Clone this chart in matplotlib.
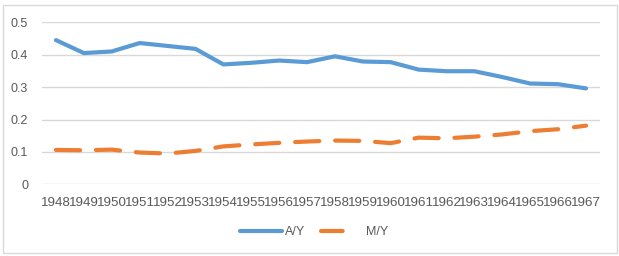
import matplotlib.pyplot as plt
from matplotlib.lines import Line2D
from matplotlib.patches import Rectangle

plt.rcParams['font.family'] = ['Liberation Sans', 'DejaVu Sans']

# data
years = [str(y) for y in range(1948, 1968)]
a_y = [0.445, 0.405, 0.410, 0.436, 0.427, 0.418, 0.370, 0.375, 0.382, 0.377,
       0.395, 0.379, 0.377, 0.354, 0.349, 0.349, 0.331, 0.311, 0.309, 0.296]
m_y = [0.106, 0.105, 0.107, 0.098, 0.095, 0.103, 0.117, 0.123, 0.128, 0.132,
       0.135, 0.134, 0.127, 0.144, 0.142, 0.147, 0.154, 0.164, 0.170, 0.181]
yticks = [0, 0.1, 0.2, 0.3, 0.4, 0.5]

blue = '#5B9BD5'
orange = '#ED7D31'
text_col = '#595959'
grid_col = '#D9D9D9'

fig = plt.figure(figsize=(6.19, 2.56), dpi=100)
fig.patches.append(Rectangle((2.5 / 619, 3.5 / 256), 614 / 619, 248 / 256,
                             transform=fig.transFigure, fill=False,
                             edgecolor=grid_col, linewidth=1))
ax = fig.add_axes([42 / 619, 1 - 184.3 / 256, 558 / 619, 162 / 256])

x = list(range(len(years)))
ax.plot(x, a_y, color=blue, linewidth=3, solid_capstyle='round')
ax.plot(x, m_y, color=orange, linewidth=3, dashes=(5.8, 3.8),
        dash_capstyle='round')

ax.set_xlim(-0.5, len(years) - 0.5)
ax.set_ylim(0, 0.5)
ax.set_yticks(yticks)
ax.set_yticklabels(['0', '0.1', '0.2', '0.3', '0.4', '0.5'])
ax.set_xticks(x)
ax.set_xticklabels(years)
ax.yaxis.grid(True, color=grid_col, linewidth=1)
ax.set_axisbelow(True)
for s in ax.spines.values():
    s.set_visible(False)
ax.tick_params(axis='both', length=0, labelsize=9, colors=text_col)
ax.tick_params(axis='y', pad=10)
ax.tick_params(axis='x', pad=9, labelsize=9.6)

handles = [Line2D([], [], color=blue, linewidth=3, solid_capstyle='round'),
           Line2D([], [], color=orange, linewidth=3, dashes=(5.2, 20),
                  dash_capstyle='round')]
fig.legend(handles, ['A/Y', 'M/Y'], loc='center', ncol=2,
           bbox_to_anchor=(314 / 619, 1 - 232 / 256), frameon=False,
           fontsize=9, labelcolor=text_col, handlelength=3.4,
           handletextpad=0.25, columnspacing=1.2)

fig.savefig('out.png', dpi=100)
